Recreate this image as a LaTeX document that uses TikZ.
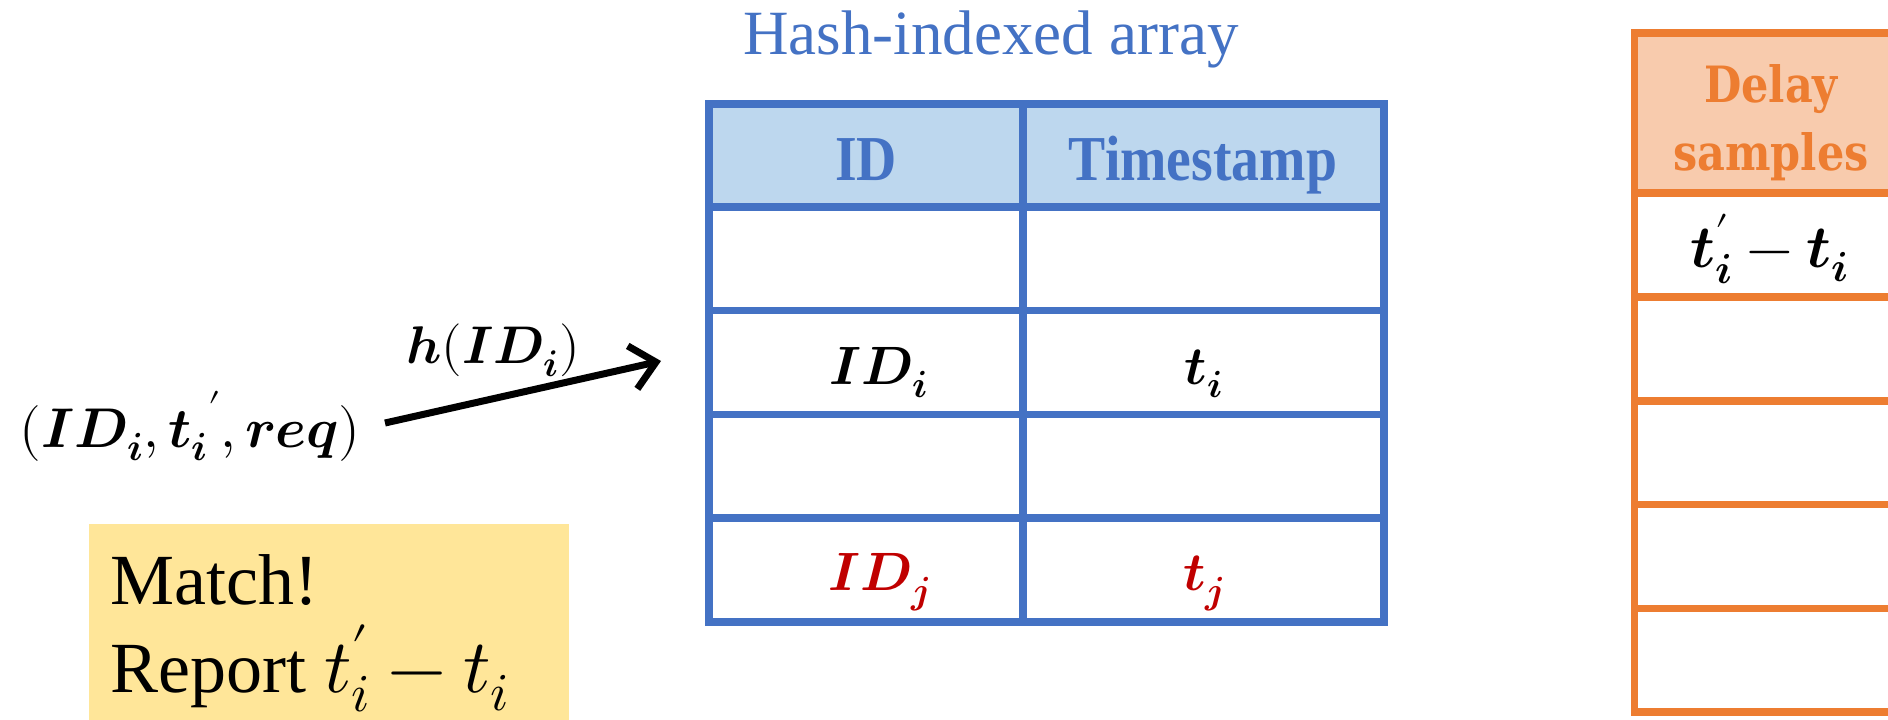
\documentclass[tikz,border=0pt]{standalone}
\usepackage{amsmath}
\usepackage{fontspec}
\usepackage{unicode-math}
\setmathfont{Latin Modern Math}
\newfontfamily\textserif{Liberation Serif}
\newfontfamily\headfont[FakeStretch=0.87]{Liberation Serif}
\newfontfamily\slabfont[FakeStretch=0.86, BoldFont={DejaVu Serif Bold}]{DejaVu Serif}
\usetikzlibrary{arrows.meta}
\definecolor{hashblue}{HTML}{4472C4}
\definecolor{hashfill}{HTML}{BDD7EE}
\definecolor{delayorange}{HTML}{ED7D31}
\definecolor{delayfill}{HTML}{F8CBAD}
\definecolor{hitred}{HTML}{C00000}
\definecolor{notefill}{HTML}{FFE699}
\tikzset{
  bluegrid/.style={draw=hashblue, line width=7.5pt},
  orangegrid/.style={draw=delayorange, line width=7.5pt},
  celltext/.style={anchor=base, inner sep=0pt, font=\fontsize{54}{60}\selectfont},
  hdrtext/.style={anchor=base, inner sep=0pt, text=hashblue, font=\headfont\bfseries\fontsize{64}{70}\selectfont},
  mathlabel/.style={anchor=base, inner sep=0pt, font=\fontsize{56}{60}\selectfont},
}
\begin{document}
\begin{tikzpicture}[x=1pt, y=-1pt]
\useasboundingbox (0,0) rectangle (1888,720);
\clip (0,0) rectangle (1888,720);

% hash-indexed array
\node[anchor=base, inner sep=0pt, text=hashblue, font=\textserif\fontsize{63}{66}\selectfont] (title) at (991,54) {Hash-indexed array};
\fill[hashfill] (709,104) rectangle (1384,207);
\draw[bluegrid] (709,104) rectangle (1384,622);
\foreach \y in {207,310.5,414.5,518} \draw[bluegrid] (709,\y) -- (1384,\y);
\draw[bluegrid] (1023,104) -- (1023,622);

\node[hdrtext] (hid) at (866,180) {ID};
\node[hdrtext] (hts) at (1203,180) {Timestamp};
\node[celltext] (idi) at (879,384) {$\symbfit{ID_i}$};
\node[celltext] (ti) at (1204,384) {$\symbfit{t_i}$};
\node[celltext, text=hitred] (idj) at (879,590) {$\symbfit{ID_j}$};
\node[celltext, text=hitred] (tj) at (1204,590) {$\symbfit{t_j}$};

% delay samples column (base anchor sits on the last line)
\fill[delayfill] (1634.5,33) rectangle (1900,193);
\draw[orangegrid] (1900,33) -- (1634.5,33) -- (1634.5,712) -- (1900,712);
\foreach \y in {193,297,401,504.5,608.5} \draw[orangegrid] (1634.5,\y) -- (1900,\y);
\node[anchor=base, inner sep=0pt, align=center, text=delayorange, font=\slabfont\bfseries\fontsize{50}{68}\selectfont] (dhead) at (1771,170) {Delay\\samples};
\node[celltext, font=\fontsize{60}{64}\selectfont] (dsample) at (1770,267) {$\symbfit{t'_i} - \symbfit{t_i}$};

% incoming request and hash lookup
\node[mathlabel] (req) at (190,447) {$(\symbfit{ID_i},\symbfit{{t_i}'},\symbfit{req})$};
\coordinate (arrS) at (385,423);
\coordinate (arrE) at (661,361);
\draw[line width=7pt, -{Straight Barb[length=24pt, width=44pt]}] (arrS) -- (arrE);
\node[mathlabel, font=\fontsize{53}{60}\selectfont] (hash) at (493,363) {$\symbfit{h}(\symbfit{ID_i})$};

% match note
\fill[notefill] (89,524) rectangle (569,725);
\node[anchor=base west, inner sep=0pt, align=left, font=\textserif\fontsize{72}{88}\selectfont] (note) at (110,692) {Match!\\Report {\fontsize{76}{88}\selectfont$t'_i - t_i$}};
\end{tikzpicture}
\end{document}
